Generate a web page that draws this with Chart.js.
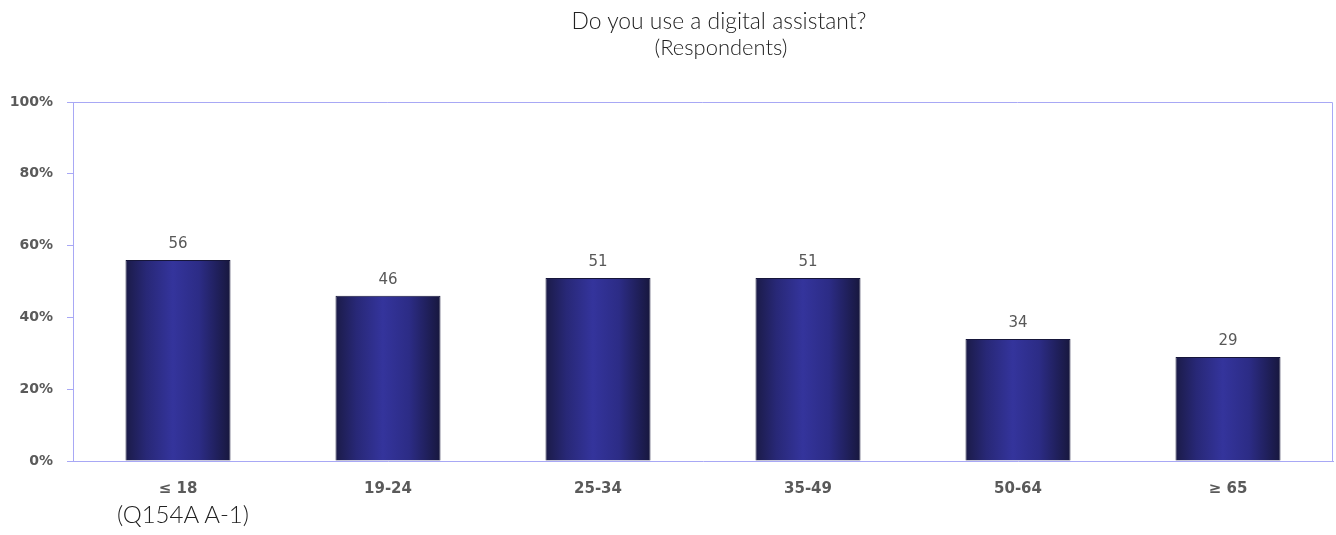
<!DOCTYPE html>
<html lang="en">
<head>
<meta charset="UTF-8">
<title>Do you use a digital assistant?</title>
<script src="https://cdn.jsdelivr.net/npm/chart.js"></script>
<style>
  html, body { margin: 0; padding: 0; background: #fff; }
  #wrap { position: relative; width: 1336px; height: 535px; overflow: hidden; }
  #chartBox { position: absolute; left: 0; top: 0; width: 1336px; height: 535px; }
  .txt { position: absolute; display: inline-block; white-space: nowrap; line-height: 1;
         font-family: Lato, "Open Sans", sans-serif; font-weight: 300; font-size: 20px; color: #222; }
</style>
</head>
<body>
<div id="wrap">
  <div id="chartBox"><canvas id="chart"></canvas></div>
  <span class="txt" id="t1">Do you use a digital assistant?</span>
  <span class="txt" id="t2">(Respondents)</span>
  <span class="txt" id="note">(Q154A A-1)</span>
</div>
<script>
  // chart data
  const ageGroups = ['\u2264 18', '19-24', '25-34', '35-49', '50-64', '\u2265 65'];
  const usePercent = [56, 46, 51, 51, 34, 29];
  const yTicks = [0, 20, 40, 60, 80, 100];

  const axisColor = '#a8a8f5';
  const tickColor = '#5a5a5a';

  // size the thin text lines to the widths seen in the original
  function placeText(id, width, cx, left, cy) {
    const el = document.getElementById(id);
    const size = 20 * width / el.getBoundingClientRect().width;
    el.style.fontSize = size + 'px';
    const w = el.getBoundingClientRect().width;
    el.style.left = (left != null ? left : cx - w / 2) + 'px';
    el.style.top = (cy - 0.53 * size) + 'px';
  }
  document.fonts.ready.then(() => {
    placeText('t1', 295, 719, null, 21.5);
    placeText('t2', 133, 721, null, 48);
    placeText('note', 132, null, 117, 515);
  });

  // horizontal shading on each bar
  function barGradient(context) {
    const chart = context.chart;
    const xs = chart.scales.x;
    if (!xs || !chart.chartArea) return '#30308f';
    const cx = xs.getPixelForValue(context.dataIndex);
    const w = xs.width / ageGroups.length * 0.5;
    const g = chart.ctx.createLinearGradient(cx - w / 2, 0, cx + w / 2, 0);
    g.addColorStop(0, '#1b1b48');
    g.addColorStop(0.2, '#282877');
    g.addColorStop(0.45, '#34349c');
    g.addColorStop(0.7, '#2c2c86');
    g.addColorStop(1, '#17173d');
    return g;
  }

  const frame = {
    id: 'frame',
    afterDraw(chart) {
      const a = chart.chartArea, ctx = chart.ctx;
      ctx.save();
      ctx.strokeStyle = axisColor;
      ctx.lineWidth = 1;
      ctx.beginPath();
      ctx.moveTo(a.left, a.top + 0.5);
      ctx.lineTo(a.right - 0.5, a.top + 0.5);
      ctx.lineTo(a.right - 0.5, a.bottom);
      ctx.stroke();
      ctx.restore();
    }
  };

  const valueLabels = {
    id: 'valueLabels',
    afterDatasetsDraw(chart) {
      const ctx = chart.ctx;
      ctx.save();
      ctx.font = '15px "DejaVu Sans", sans-serif';
      ctx.fillStyle = '#585858';
      ctx.textAlign = 'center';
      ctx.textBaseline = 'alphabetic';
      chart.getDatasetMeta(0).data.forEach((bar, i) => {
        ctx.fillText(usePercent[i], bar.x, bar.y - 12);
      });
      ctx.restore();
    }
  };

  new Chart(document.getElementById('chart'), {
    type: 'bar',
    data: {
      labels: ageGroups,
      datasets: [{
        data: usePercent,
        backgroundColor: barGradient,
        borderColor: '#16163a',
        borderWidth: 1,
        borderSkipped: 'bottom',
        barPercentage: 0.5,
        categoryPercentage: 1
      }]
    },
    options: {
      responsive: true,
      maintainAspectRatio: false,
      animation: false,
      layout: { padding: { top: 102, right: 3, left: 0, bottom: 0 } },
      plugins: {
        legend: { display: false },
        tooltip: { enabled: false }
      },
      scales: {
        x: {
          grid: { display: false },
          border: { display: true, color: axisColor, width: 1 },
          ticks: {
            color: tickColor,
            padding: 11,
            font: { family: '"DejaVu Sans", sans-serif', size: 15, weight: 'bold' }
          },
          afterFit(scale) { scale.height = 74; }
        },
        y: {
          min: 0,
          max: 100,
          afterBuildTicks(scale) { scale.ticks = yTicks.map(v => ({ value: v })); },
          grid: { drawOnChartArea: false, color: axisColor, tickLength: 6 },
          border: { display: true, color: axisColor, width: 1 },
          ticks: {
            color: tickColor,
            padding: 14,
            font: { family: '"DejaVu Sans", sans-serif', size: 14, weight: 'bold' },
            callback: v => v + '%'
          },
          afterFit(scale) { scale.width = 73; }
        }
      }
    },
    plugins: [frame, valueLabels]
  });
</script>
</body>
</html>
